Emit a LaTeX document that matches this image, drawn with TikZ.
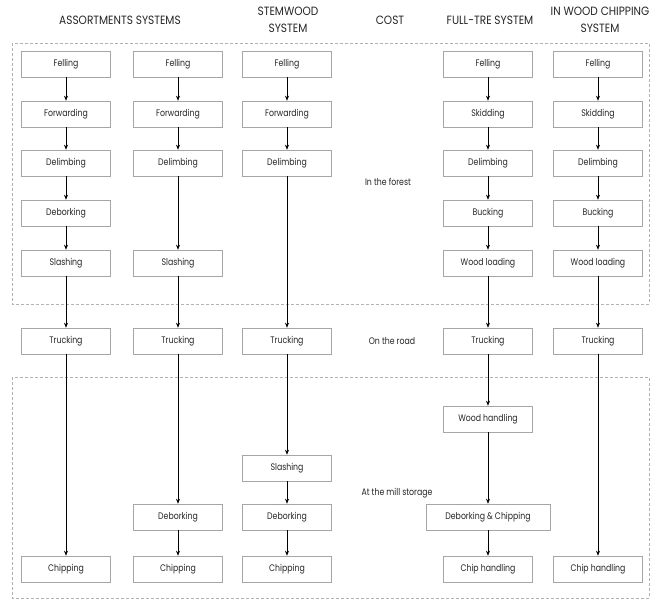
\documentclass[tikz,border=0pt]{standalone}
\usepackage{fontspec}
\setmainfont[FakeStretch=0.82]{Poppins}
\newfontfamily\hdfont[FakeStretch=0.88]{Poppins}
\usetikzlibrary{arrows.meta}
\begin{document}
\begin{tikzpicture}[x=1pt,y=-1pt,
 box/.style={draw=gray!70,line width=0.6pt,minimum width=89pt,minimum height=26pt,inner sep=1pt,font=\fontsize{9.5}{11}\selectfont,text=black!85},
 flow/.style={-{Stealth[length=5pt,width=4pt]},line width=0.5pt},
 region/.style={draw=gray!60,line width=0.6pt,densely dashed},
 hdr/.style={font=\hdfont\fontsize{12}{17}\selectfont,align=center,text=black!85,inner sep=0pt},
 lbl/.style={font=\fontsize{9.5}{11}\selectfont,text=black!85}]
\useasboundingbox[fill=white] (0,0) rectangle (661,601);
% regions
\draw[region] (12,43) rectangle (649,304);
\draw[region] (12,377) rectangle (649,598);
% headers
\node[hdr] (h1) at (120,20) {ASSORTMENTS SYSTEMS};
\node[hdr] (h2) at (288,20) {STEMWOOD\\SYSTEM};
\node[hdr] (h3) at (390,20) {COST};
\node[hdr] (h4) at (490,20) {FULL-TRE SYSTEM};
\node[hdr] (h5) at (600,20) {IN WOOD CHIPPING\\SYSTEM};
% labels
\node[lbl] (l1) at (388,182) {In the forest};
\node[lbl] (l2) at (392,341) {On the road};
\node[lbl] (l3) at (397,493) {At the mill storage};
% column 1
\node[box] (a1) at (66,64) {Felling};
\node[box] (a2) at (66,114) {Forwarding};
\node[box] (a3) at (66,163) {Delimbing};
\node[box] (a4) at (66,213) {Deborking};
\node[box] (a5) at (66,263) {Slashing};
\node[box] (a6) at (66,341) {Trucking};
\node[box] (a7) at (66,569) {Chipping};
% column 2
\node[box] (b1) at (178,64) {Felling};
\node[box] (b2) at (178,114) {Forwarding};
\node[box] (b3) at (178,163) {Delimbing};
\node[box] (b4) at (178,263) {Slashing};
\node[box] (b5) at (178,341) {Trucking};
\node[box] (b6) at (178,517) {Deborking};
\node[box] (b7) at (178,569) {Chipping};
% column 3
\node[box] (c1) at (287,64) {Felling};
\node[box] (c2) at (287,114) {Forwarding};
\node[box] (c3) at (287,163) {Delimbing};
\node[box] (c4) at (287,341) {Trucking};
\node[box] (c5) at (287,468) {Slashing};
\node[box] (c6) at (287,517) {Deborking};
\node[box] (c7) at (287,569) {Chipping};
% column 4
\node[box] (d1) at (488,64) {Felling};
\node[box] (d2) at (488,114) {Skidding};
\node[box] (d3) at (488,163) {Delimbing};
\node[box] (d4) at (488,213) {Bucking};
\node[box] (d5) at (488,263) {Wood loading};
\node[box] (d6) at (488,341) {Trucking};
\node[box] (d7) at (488,419) {Wood handling};
\node[box,minimum width=124pt] (d8) at (488,517) {Deborking \& Chipping};
\node[box] (d9) at (488,569) {Chip handling};
% column 5
\node[box] (e1) at (598,64) {Felling};
\node[box] (e2) at (598,114) {Skidding};
\node[box] (e3) at (598,163) {Delimbing};
\node[box] (e4) at (598,213) {Bucking};
\node[box] (e5) at (598,263) {Wood loading};
\node[box] (e6) at (598,341) {Trucking};
\node[box] (e7) at (598,569) {Chip handling};
% flows
\foreach \s/\t in {a1/a2,a2/a3,a3/a4,a4/a5,a5/a6,a6/a7,
  b1/b2,b2/b3,b3/b4,b4/b5,b5/b6,b6/b7,
  c1/c2,c2/c3,c3/c4,c4/c5,c5/c6,c6/c7,
  d1/d2,d2/d3,d3/d4,d4/d5,d5/d6,d6/d7,d7/d8,d8/d9,
  e1/e2,e2/e3,e3/e4,e4/e5,e5/e6,e6/e7}
  \draw[flow] (\s) -- (\t);
\end{tikzpicture}
\end{document}
